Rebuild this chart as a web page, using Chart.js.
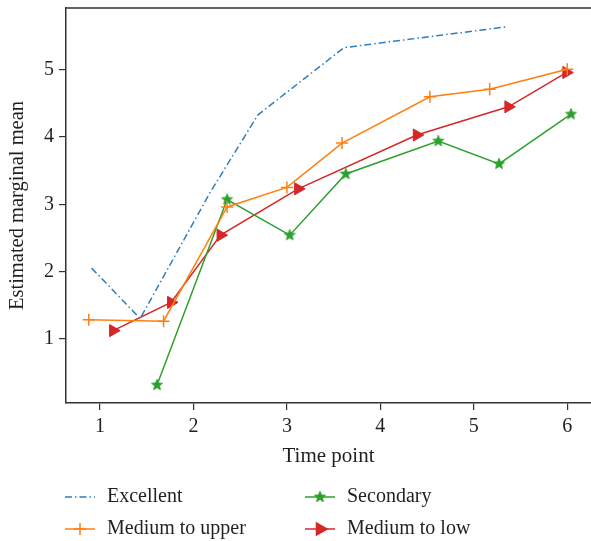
<!DOCTYPE html>
<html>
<head>
<meta charset="utf-8">
<script src="https://cdn.jsdelivr.net/npm/chart.js@4.4.1/dist/chart.umd.min.js"></script>
<style>
html,body{margin:0;padding:0;background:#fff;overflow:hidden;}
canvas{display:block;}
</style>
</head>
<body>
<canvas id="c" width="591" height="541"></canvas>
<script>
// ---- data ----
const seriesNames = ["Excellent", "Medium to upper", "Secondary", "Medium to low"];
const excellentX = [0.91, 1.43, 2.18, 2.69, 3.61, 5.35];
const excellentY = [2.05, 1.30, 3.18, 4.33, 5.33, 5.64];
const upperX = [0.88, 1.68, 2.36, 3.00, 3.59, 4.53, 5.17, 6.00];
const upperY = [1.28, 1.26, 2.96, 3.25, 3.91, 4.60, 4.71, 5.01];
const secondaryX = [1.61, 2.36, 3.03, 3.63, 4.62, 5.27, 6.04];
const secondaryY = [0.31, 3.07, 2.54, 3.45, 3.94, 3.60, 4.34];
const lowX = [1.14, 1.76, 2.29, 3.12, 4.39, 5.37, 5.99];
const lowY = [1.12, 1.54, 2.54, 3.23, 4.03, 4.45, 4.96];
const xTicks = [1, 2, 3, 4, 5, 6];
const yTicks = [1, 2, 3, 4, 5];

const FONT = "'Liberation Serif', 'Times New Roman', serif";
const TXT = '#231f20';
const AX = '#333333';

function pts(xs, ys) { return xs.map((x, i) => ({x: x, y: ys[i]})); }

// filled 5-point star marker
function makeStar(color, R) {
  const s = Math.ceil(R * 2 + 2);
  const cv = document.createElement('canvas');
  cv.width = s; cv.height = s;
  const g = cv.getContext('2d');
  const c = s / 2, r = R * 0.45;
  g.beginPath();
  for (let i = 0; i < 10; i++) {
    const a = -Math.PI / 2 + i * Math.PI / 5;
    const rr = i % 2 === 0 ? R : r;
    const px = c + rr * Math.cos(a), py = c + rr * Math.sin(a);
    if (i === 0) g.moveTo(px, py); else g.lineTo(px, py);
  }
  g.closePath();
  g.fillStyle = color; g.fill();
  g.lineWidth = 0.8; g.strokeStyle = color; g.stroke();
  return cv;
}
const starImg = makeStar('#2ca02c', 5.8);

const datasets = [
  {label: seriesNames[0], data: pts(excellentX, excellentY), borderColor: '#2f7ebc', backgroundColor: '#2f7ebc',
   borderWidth: 1.5, borderDash: [7, 3, 1.5, 3], pointRadius: 0, pointStyle: false},
  {label: seriesNames[1], data: pts(upperX, upperY), borderColor: '#ff7f0e', backgroundColor: '#ff7f0e',
   borderWidth: 1.5, pointStyle: 'cross', pointRadius: 6, pointBorderWidth: 1.5, pointHoverRadius: 6},
  {label: seriesNames[2], data: pts(secondaryX, secondaryY), borderColor: '#2ca02c', backgroundColor: '#2ca02c',
   borderWidth: 1.5, pointStyle: starImg, pointRadius: 6},
  {label: seriesNames[3], data: pts(lowX, lowY), borderColor: '#d62728', backgroundColor: '#d62728',
   borderWidth: 1.5, pointStyle: 'triangle', pointRotation: 90, pointRadius: 7, pointBorderWidth: 1}
];

const framePlugin = {
  id: 'frame',
  afterDatasetsDraw(chart) {
    const {ctx, chartArea} = chart;
    ctx.save();
    ctx.strokeStyle = AX; ctx.lineWidth = 1.5;
    ctx.beginPath();
    ctx.moveTo(chartArea.left - 0.75, chartArea.top);
    ctx.lineTo(chartArea.right, chartArea.top);
    ctx.stroke();
    ctx.restore();
  }
};

const legendPlugin = {
  id: 'customLegend',
  afterDraw(chart) {
    const ctx = chart.ctx;
    const pos = [
      {x: 65, y: 497}, {x: 65, y: 529}, {x: 305, y: 497}, {x: 305, y: 529}
    ];
    chart.data.datasets.forEach((ds, i) => {
      const p = pos[i];
      ctx.save();
      ctx.strokeStyle = ds.borderColor;
      ctx.lineWidth = ds.borderWidth;
      ctx.setLineDash(ds.borderDash || []);
      ctx.beginPath();
      ctx.moveTo(p.x, p.y);
      ctx.lineTo(p.x + 30, p.y);
      ctx.stroke();
      ctx.setLineDash([]);
      if (ds.pointStyle) {
        ctx.fillStyle = ds.backgroundColor;
        Chart.helpers.drawPoint(ctx, {
          pointStyle: ds.pointStyle, radius: ds.pointRadius,
          rotation: ds.pointRotation || 0, borderWidth: ds.pointBorderWidth || 1
        }, p.x + 15, p.y);
      }
      ctx.fillStyle = TXT;
      ctx.font = '20px ' + FONT;
      ctx.textBaseline = 'middle';
      ctx.textAlign = 'left';
      ctx.fillText(ds.label, p.x + 42, p.y);
      ctx.restore();
    });
  }
};

new Chart(document.getElementById('c'), {
  type: 'line',
  data: {datasets: datasets},
  options: {
    responsive: false,
    animation: false,
    events: [],
    layout: {autoPadding: false, padding: {left: 0, right: 0, top: 8, bottom: 72}},
    plugins: {legend: {display: false}, tooltip: {enabled: false}},
    elements: {line: {tension: 0}},
    scales: {
      x: {
        type: 'linear', min: 0.636, max: 6.254,
        afterBuildTicks: s => { s.ticks = xTicks.map(v => ({value: v})); },
        afterFit: s => { s.height = 66; s.paddingLeft = 0; s.paddingRight = 0; },
        grid: {drawOnChartArea: false, drawTicks: true, tickLength: 7, color: AX, lineWidth: 1.2},
        border: {display: true, color: AX, width: 1.5},
        ticks: {padding: 5, color: TXT, font: {family: FONT, size: 20}, maxRotation: 0, autoSkip: false},
        title: {display: true, text: 'Time point', color: TXT, font: {family: FONT, size: 21}, padding: {top: 0, bottom: 0}}
      },
      y: {
        type: 'linear', min: 0.043, max: 5.92,
        afterBuildTicks: s => { s.ticks = yTicks.map(v => ({value: v})); },
        afterFit: s => { s.width = 66; s.paddingTop = 0; s.paddingBottom = 0; },
        grid: {drawOnChartArea: false, drawTicks: true, tickLength: 7, color: AX, lineWidth: 1.2},
        border: {display: true, color: AX, width: 1.5},
        ticks: {padding: 5, color: TXT, font: {family: FONT, size: 20}},
        title: {display: true, text: 'Estimated marginal mean', color: TXT, font: {family: FONT, size: 20.5}, padding: {top: 5, bottom: 0}}
      }
    }
  },
  plugins: [framePlugin, legendPlugin]
});
</script>
</body>
</html>
